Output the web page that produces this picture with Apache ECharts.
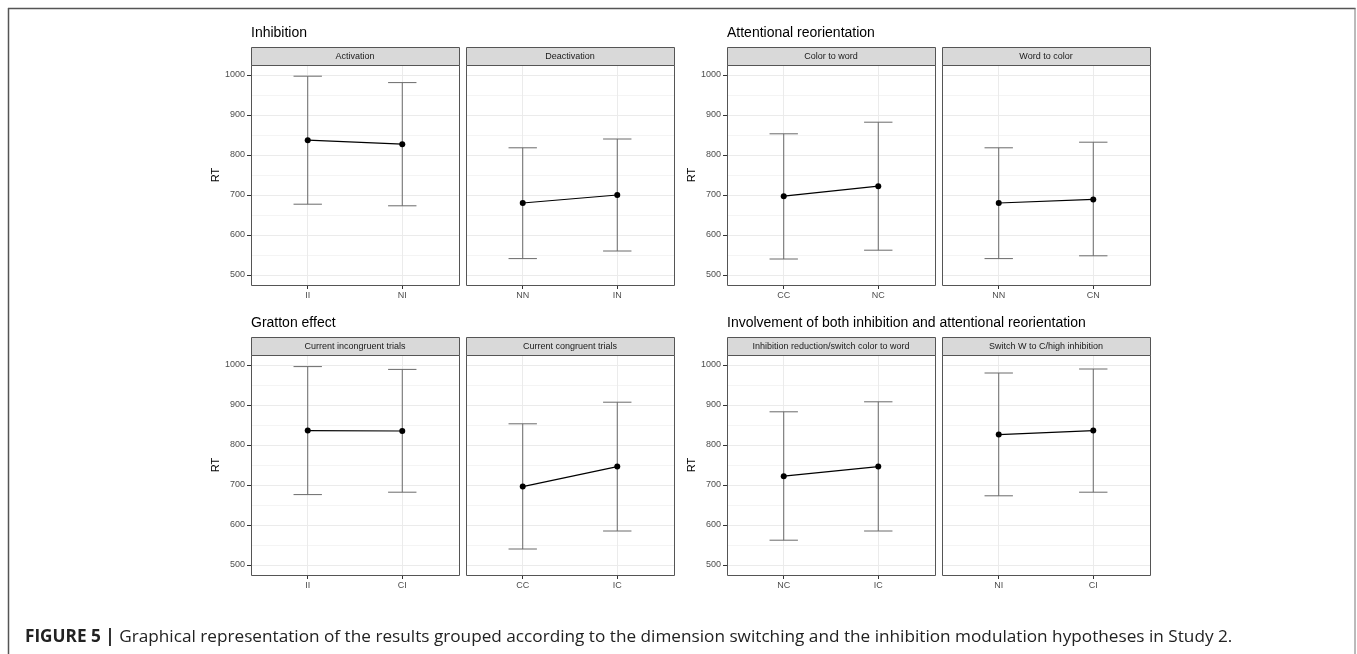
<!DOCTYPE html>
<html>
<head>
<meta charset="utf-8">
<title>Figure 5</title>
<script src="https://cdn.jsdelivr.net/npm/echarts@6/dist/echarts.min.js"></script>
<style>
html, body { margin: 0; padding: 0; background: #fff; }
#container { width: 1357px; height: 654px; }
</style>
</head>
<body>
<div id="container"></div>
<script>
var groupTitles = ['Inhibition', 'Attentional reorientation', 'Gratton effect', 'Involvement of both inhibition and attentional reorientation'];
var stripLabels = ['Activation', 'Deactivation', 'Color to word', 'Word to color',
    'Current incongruent trials', 'Current congruent trials', 'Inhibition reduction/switch color to word', 'Switch W to C/high inhibition'];
var categories = [['II', 'NI'], ['NN', 'IN'], ['CC', 'NC'], ['NN', 'CN'], ['II', 'CI'], ['CC', 'IC'], ['NC', 'IC'], ['NI', 'CI']];
var means = [[837, 827], [680, 700], [697, 722], [680, 689], [836, 835], [696, 746], [722, 746], [826, 836]];
var lowers = [[677, 673], [541, 560], [540, 562], [541, 548], [676, 682], [540, 585], [562, 585], [673, 682]];
var uppers = [[997, 981], [818, 840], [853, 882], [818, 832], [996, 989], [853, 907], [883, 908], [980, 990]];
var yTicks = [500, 600, 700, 800, 900, 1000];
var yMinorTicks = [550, 650, 750, 850, 950];
var yLabel = 'RT';
var captionHead = 'FIGURE 5 |';
var captionBody = 'Graphical representation of the results grouped according to the dimension switching and the inhibition modulation hypotheses in Study 2.';

var FONT = '"Liberation Sans", Arial, Helvetica, sans-serif';
var CAPTION_FONT = '"Open Sans", "Liberation Sans", Arial, sans-serif';
var colLeft = [251, 466, 727, 942];
var rowTop = [65, 355];
var PANEL_W = 208;
var PANEL_H = 220;
var STRIP_H = 18;
var CAP = 0.15; // half width of error bar caps, in x units

/*==========================================
 * error bar: vertical line + two caps
 */
function renderErrorBar(params, api) {
    var x = api.value(0);
    var lo = api.coord([x, api.value(1)]);
    var hi = api.coord([x, api.value(2)]);
    var left = api.coord([x - CAP, api.value(1)])[0];
    var right = api.coord([x + CAP, api.value(1)])[0];
    var style = { stroke: '#6a6a6a', lineWidth: 1 };

    return {
        type: 'group',
        children: [
            { type: 'line', shape: { x1: lo[0], y1: lo[1], x2: hi[0], y2: hi[1] }, style: style },
            { type: 'line', shape: { x1: left, y1: hi[1], x2: right, y2: hi[1] }, style: style },
            { type: 'line', shape: { x1: left, y1: lo[1], x2: right, y2: lo[1] }, style: style }
        ]
    };
};

/*==========================================
 * panel grid lines (major + minor), drawn as mark lines under the data
 */
function gridLines(nCats) {
    var _lines = [];
    for (var i = 0; i < yMinorTicks.length; i++) {
        _lines.push({ yAxis: yMinorTicks[i], lineStyle: { color: '#f4f4f4' } });
    };
    for (var i = 0; i < yTicks.length; i++) {
        _lines.push({ yAxis: yTicks[i], lineStyle: { color: '#ebebeb' } });
    };
    for (var i = 1; i <= nCats; i++) {
        _lines.push({ xAxis: i, lineStyle: { color: '#ebebeb' } });
    };
    return {
        silent: true, z: 1, symbol: ['none', 'none'],
        label: { show: false }, emphasis: { disabled: true },
        lineStyle: { type: 'solid', width: 1 },
        data: _lines
    };
};

/*==========================================
 * build grids, axes and series for every panel
 */
function buildOption() {
    var grids = [], xAxes = [], yAxes = [], series = [], graphics = [];

    for (var i = 0; i < stripLabels.length; i++) {
        var row = Math.floor(i / 4);
        var col = i % 4;
        var cats = categories[i];
        var hasLabels = (col % 2 == 0);

        grids.push({
            left: colLeft[col], top: rowTop[row], width: PANEL_W, height: PANEL_H,
            show: false
        });

        xAxes.push({
            type: 'value', gridIndex: i, min: 0.4, max: 2.6,
            axisLine: { show: false },
            axisTick: { show: true, customValues: [1, 2], length: 4, lineStyle: { color: '#333' } },
            axisLabel: {
                customValues: [1, 2], fontSize: 9, color: '#4d4d4d', margin: 6, fontFamily: FONT,
                formatter: (function(c) { return function(v) { return c[Math.round(v) - 1]; }; })(cats)
            },
            splitLine: { show: false }
        });

        yAxes.push({
            type: 'value', gridIndex: i, min: 475, max: 1025, position: 'left',
            axisLine: { show: false },
            axisTick: { show: hasLabels, customValues: yTicks, length: 4, lineStyle: { color: '#333' } },
            axisLabel: {
                show: hasLabels, customValues: yTicks, fontSize: 9, color: '#4d4d4d', margin: 6, fontFamily: FONT,
                formatter: function(v) { return String(v); }
            },
            splitLine: { show: false },
            name: hasLabels ? yLabel : '', nameLocation: 'middle', nameGap: 30, nameRotate: 90,
            nameTextStyle: { fontSize: 11, color: '#000', fontFamily: FONT }
        });

        var barData = [], lineData = [];
        for (var j = 0; j < cats.length; j++) {
            barData.push([j + 1, lowers[i][j], uppers[i][j]]);
            lineData.push([j + 1, means[i][j]]);
        };

        series.push({
            type: 'custom', xAxisIndex: i, yAxisIndex: i,
            renderItem: renderErrorBar, encode: { x: 0, y: [1, 2] },
            data: barData, silent: true, z: 3
        });
        series.push({
            type: 'line', xAxisIndex: i, yAxisIndex: i, data: lineData,
            symbol: 'circle', symbolSize: 6, color: '#000',
            lineStyle: { color: '#000', width: 1.2 }, itemStyle: { color: '#000' },
            silent: true, z: 4,
            markLine: gridLines(cats.length)
        });

        // panel border
        graphics.push({
            type: 'rect', z: 10,
            shape: { x: colLeft[col] + 0.5, y: rowTop[row] + 0.5, width: PANEL_W, height: PANEL_H },
            style: { fill: 'none', stroke: '#555', lineWidth: 1 }
        });
        // facet strip
        graphics.push({
            type: 'rect', z: 10,
            shape: { x: colLeft[col] + 0.5, y: rowTop[row] - STRIP_H + 0.5, width: PANEL_W, height: STRIP_H },
            style: { fill: '#d9d9d9', stroke: '#555', lineWidth: 1 }
        });
        graphics.push({
            type: 'text', z: 11, x: colLeft[col] + PANEL_W / 2, y: rowTop[row] - STRIP_H / 2 + 0.5,
            style: { text: stripLabels[i], fontSize: 9, fill: '#1a1a1a', fontFamily: FONT, align: 'center', verticalAlign: 'middle' }
        });
    };

    // group titles
    for (var k = 0; k < groupTitles.length; k++) {
        graphics.push({
            type: 'text', x: colLeft[(k % 2) * 2], y: rowTop[Math.floor(k / 2)] - 32,
            style: { text: groupTitles[k], fontSize: 14, fill: '#000', fontFamily: FONT, verticalAlign: 'middle' }
        });
    };

    // figure frame
    var frame = { stroke: '#555', lineWidth: 1.5 };
    graphics.push({ type: 'line', shape: { x1: 8, y1: 8.5, x2: 1355.5, y2: 8.5 }, style: frame });
    graphics.push({ type: 'line', shape: { x1: 8.5, y1: 8, x2: 8.5, y2: 654 }, style: frame });
    graphics.push({ type: 'line', shape: { x1: 1355, y1: 8, x2: 1355, y2: 654 }, style: { stroke: '#777', lineWidth: 1 } });

    // caption
    graphics.push({
        type: 'text', x: 25, y: 637,
        style: {
            text: '{b|' + captionHead + '} ' + captionBody,
            fontSize: 17.2, fill: '#222', fontFamily: CAPTION_FONT, verticalAlign: 'middle',
            rich: { b: { fontSize: 17.2, fontWeight: 'bold', fill: '#222', fontFamily: CAPTION_FONT } }
        }
    });

    return {
        animation: false,
        backgroundColor: '#fff',
        textStyle: { fontFamily: FONT },
        grid: grids,
        xAxis: xAxes,
        yAxis: yAxes,
        series: series,
        graphic: { elements: graphics }
    };
};

var myChart = echarts.init(document.getElementById('container'));
myChart.setOption(buildOption());
</script>
</body>
</html>
